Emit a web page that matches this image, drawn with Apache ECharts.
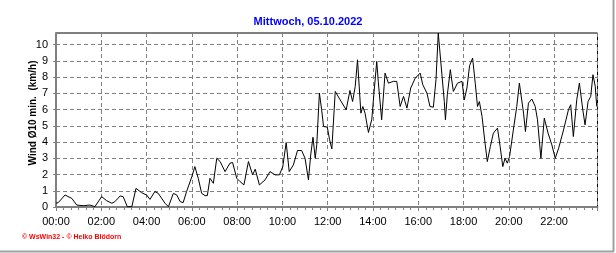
<!DOCTYPE html>
<html><head><meta charset="utf-8">
<script src="https://cdn.jsdelivr.net/npm/echarts@6/dist/echarts.min.js"></script>
<style>html,body{margin:0;padding:0;background:#fff}#c{width:616px;height:253px}</style>
</head><body><div id="c"></div>
<script>
const chartTitle = "Mittwoch, 05.10.2022";
const yAxisName = "Wind Ø10 min.  (km/h)";
const footerText = "© WsWin32 - © Heiko Blödorn";
// minutes after midnight of each reading
const minutes = [0,6,24,42,55,72,90,103,121,134,148,156,170,178,189,201,212,227,240,249,262,271,289,298,311,320,329,337,346,360,368,377,386,395,401,408,417,426,435,448,461,468,479,488,498,510,521,528,539,554,567,581,592,601,610,618,629,640,651,660,669,675,681,687,691,698,704,709,719,725,731,740,753,769,779,786,793,799,808,813,819,828,837,843,850,854,863,872,881,894,903,912,921,930,940,952,965,972,983,991,1000,1007,1013,1020,1029,1032,1037,1045,1053,1064,1076,1082,1089,1096,1104,1111,1117,1122,1129,1137,1143,1151,1159,1170,1177,1184,1190,1196,1202,1212,1221,1228,1239,1244,1252,1261,1270,1276,1285,1294,1304,1314,1323,1332,1345,1358,1364,1371,1380,1387,1396,1402,1410,1417,1423,1429,1433];
// wind speed km/h
const windKmh = [0.23,0.27,0.74,0.53,0.12,0.08,0.12,0.02,0.64,0.39,0.23,0.33,0.68,0.64,0.02,0.02,1.15,0.88,0.74,0.47,0.95,0.84,0.23,0.02,0.84,0.74,0.33,0.27,0.95,1.87,2.49,1.77,0.84,0.70,0.70,1.77,1.46,3.0,2.8,2.18,2.7,2.74,1.77,1.56,1.36,2.8,1.98,2.33,1.36,1.67,2.18,1.98,1.98,2.49,3.97,2.18,2.59,3.48,3.48,3.0,1.67,3.21,4.3,3.0,3.83,7.02,5.99,4.96,4.92,4.14,3.58,7.12,6.6,5.99,7.18,6.5,7.43,9.07,5.78,6.19,5.78,4.59,5.41,7.12,8.97,7.74,5.37,8.25,7.63,7.74,7.74,6.19,6.81,6.09,7.33,7.94,8.25,7.53,7.02,6.19,6.15,7.84,10.72,8.87,6.5,5.37,6.91,8.46,7.12,7.63,7.74,6.6,7.33,8.7,9.18,7.63,6.19,6.5,5.58,3.93,2.8,3.72,4.55,4.86,3.72,2.49,3.0,2.7,3.11,4.75,6.19,7.63,5.78,4.65,6.4,6.65,6.19,5.37,3.0,5.47,4.55,3.83,3.0,3.62,4.75,5.99,6.3,4.34,6.6,7.63,5.99,5.06,6.5,6.81,8.15,7.43,6.19];
const xMaxMinutes = 1435;
const xTickMinutes = 120;
const yTickStep = 1;

function hhmm(m){const h=Math.floor(m/60),mm=Math.round(m%60);return String(h).padStart(2,'0')+':'+String(mm).padStart(2,'0');}

const chart = echarts.init(document.getElementById('c'), null, {renderer:'canvas'});
const font = 'Arial, "Liberation Sans", sans-serif';
chart.setOption({
  animation:false,
  backgroundColor:'#fff',
  title:{text:chartTitle,left:'center',top:11,textStyle:{color:'#0000ff',fontSize:11,fontWeight:'bold',fontFamily:font}},
  grid:{left:56,right:18.5,top:33,bottom:46,show:true,borderColor:'#000',borderWidth:1,backgroundColor:'#fff'},
  xAxis:{type:'value',min:0,max:xMaxMinutes,interval:xTickMinutes,
    axisLine:{show:true,onZero:false,lineStyle:{color:'#808080',width:2}},
    axisTick:{show:true,length:4,lineStyle:{color:'#808080'}},
    minorTick:{show:true,splitNumber:6,length:3,lineStyle:{color:'#808080'}},
    axisLabel:{formatter:v=>hhmm(v),color:'#000',fontSize:11,fontFamily:font,margin:9,showMaxLabel:false},
    splitLine:{show:true,lineStyle:{color:'#808080',type:[4,3],width:1}}},
  yAxis:{type:'value',min:0,max:'dataMax',interval:yTickStep,
    name:yAxisName,nameLocation:'middle',nameGap:18,nameRotate:90,nameMoveOverlap:false,
    nameTextStyle:{color:'#000',fontSize:10,fontWeight:'bold',fontFamily:font,padding:[0,0,0,14]},
    axisLine:{show:true,onZero:false,lineStyle:{color:'#808080',width:2}},
    axisTick:{show:true,length:3,lineStyle:{color:'#808080'}},
    axisLabel:{color:'#000',fontSize:11,fontFamily:font,margin:8,showMaxLabel:false},
    splitLine:{show:true,lineStyle:{color:'#808080',type:[4,3],width:1}}},
  graphic:[
    {type:'line',shape:{x1:613.5,y1:0,x2:613.5,y2:251.5},style:{stroke:'#a0a0a0',lineWidth:2}},
    {type:'line',shape:{x1:0,y1:251.5,x2:614,y2:251.5},style:{stroke:'#a0a0a0',lineWidth:2}},
    {type:'text',left:22,top:234,style:{text:footerText,fill:'#ff0000',font:'bold 7px '+font}}
  ],
  series:[{type:'line',data:minutes.map((m,i)=>[m,windKmh[i]]),showSymbol:false,symbol:'none',
    lineStyle:{color:'#000',width:1},silent:true}]
});
</script></body></html>
